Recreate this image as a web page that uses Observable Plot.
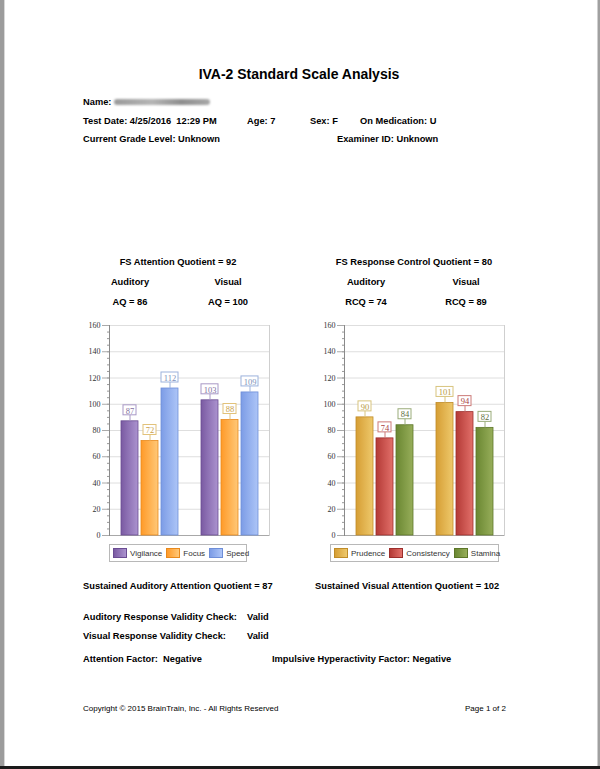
<!DOCTYPE html>
<html>
<head>
<meta charset="utf-8">
<script src="https://cdn.jsdelivr.net/npm/d3@7"></script>
<script src="https://cdn.jsdelivr.net/npm/@observablehq/plot@0.6"></script>
<style>
  html, body { margin: 0; padding: 0; background: #fff; }
  #page { position: relative; width: 600px; height: 769px; overflow: hidden; background: #fff;
          font-family: "Liberation Sans", Arial, sans-serif; color: #000; }
  .t { position: absolute; white-space: pre; font-weight: bold; }
  .c { transform: translateX(-50%); }
  .legend { position: absolute; border: 1px solid #b8b8b8; background: #fff; display: flex; align-items: center;
            font-family: "Liberation Sans", Arial, sans-serif; font-size: 8px; color: #333; box-sizing: border-box; }
  .legend .sw { display: inline-block; width: 14px; height: 10px; box-sizing: border-box; margin-right: 3px; }
  .legend .it { display: flex; align-items: center; }
  .chart { position: absolute; }
</style>
</head>
<body>
<div id="page"></div>
<script>
// ---------- data ----------
const title = "IVA-2 Standard Scale Analysis";
const groups = ["Auditory", "Visual"];
const attnSeries = ["Vigilance", "Focus", "Speed"];
const attnAuditory = [87, 72, 112];
const attnVisual = [103, 88, 109];
const rcSeries = ["Prudence", "Consistency", "Stamina"];
const rcAuditory = [90, 74, 84];
const rcVisual = [101, 94, 82];
const yTicks = [0, 20, 40, 60, 80, 100, 120, 140, 160];
const yMinorTicks = d3.range(0, 161, 5);

// colours: [dark, light, stroke, label border, label text]
const attnColors = [
  ["#7a5aa2", "#ab93cf", "#6a4c92", "#a898c6", "#7f6fa0"],
  ["#ff9a28", "#ffc878", "#e8891c", "#e2c27a", "#c9a04a"],
  ["#7c9ce6", "#adc5f7", "#6e8ed8", "#9cb2dc", "#7c90b8"]
];
const rcColors = [
  ["#d69e34", "#eec96c", "#c08c28", "#d8c47e", "#b89a40"],
  ["#b43a36", "#e2706a", "#9c2e2c", "#cc7a78", "#a84040"],
  ["#6a8732", "#97ae5a", "#5c7628", "#9aac7a", "#5e6e3e"]
];

const page = document.getElementById("page");
const BODY = 9.3;

function txt(s, x, y, opts = {}) {
  const d = document.createElement("div");
  d.className = "t" + (opts.center ? " c" : "");
  d.textContent = s;
  const fs = opts.size || BODY;
  d.style.fontSize = fs + "px";
  d.style.lineHeight = fs + "px";
  d.style.left = x + "px";
  d.style.top = (y - fs * 0.55) + "px";
  if (opts.normal) d.style.fontWeight = "normal";
  page.appendChild(d);
  return d;
}

// page edges
const edgeL = document.createElement("div");
edgeL.style.cssText = "position:absolute;left:0;top:0;width:4px;height:769px;background:#9c9c9c;border-right:1px solid #d8d8d8;";
page.appendChild(edgeL);
const edgeR = document.createElement("div");
edgeR.style.cssText = "position:absolute;left:597px;top:0;width:3px;height:769px;background:#a0a0a0;border-left:1px solid #d0d0d0;";
page.appendChild(edgeR);
const edgeB = document.createElement("div");
edgeB.style.cssText = "position:absolute;left:0;top:766px;width:600px;height:3px;background:#1a1a1a;";
page.appendChild(edgeB);

// header
txt(title, 299, 75, { center: true, size: 14 });
txt("Name:", 83, 103);
const blur = document.createElement("div");
blur.style.cssText = "position:absolute;left:114px;top:99px;width:96px;height:6px;border-radius:3px;background:linear-gradient(90deg,#9a9a9a,#b5b5b5 40%,#8e8e8e 70%,#a8a8a8);filter:blur(1.2px);";
page.appendChild(blur);
txt("Test Date: 4/25/2016  12:29 PM", 83, 122);
txt("Age: 7", 247, 122);
txt("Sex: F", 310, 122);
txt("On Medication: U", 360, 122);
txt("Current Grade Level: Unknown", 83, 140);
txt("Examiner ID: Unknown", 337, 140);

// chart headers
txt("FS Attention Quotient = 92", 178, 263, { center: true });
txt("Auditory", 130, 283, { center: true });
txt("Visual", 228, 283, { center: true });
txt("AQ = 86", 130, 303, { center: true });
txt("AQ = 100", 228, 303, { center: true });
txt("FS Response Control Quotient = 80", 414, 263, { center: true });
txt("Auditory", 366, 283, { center: true });
txt("Visual", 466, 283, { center: true });
txt("RCQ = 74", 366, 303, { center: true });
txt("RCQ = 89", 466, 303, { center: true });

// bottom texts
txt("Sustained Auditory Attention Quotient = 87", 83, 587);
txt("Sustained Visual Attention Quotient = 102", 315, 587);
txt("Auditory Response Validity Check:", 83, 618);
txt("Valid", 247, 618);
txt("Visual Response Validity Check:", 83, 637);
txt("Valid", 247, 637);
txt("Attention Factor:  Negative", 83, 660);
txt("Impulsive Hyperactivity Factor: Negative", 272, 660);
txt("Copyright \u00A9 2015 BrainTrain, Inc. - All Rights Reserved", 83, 709, { size: 8, normal: true });
txt("Page 1 of 2", 465, 709, { size: 8, normal: true });

function makeChart(id, series, aud, vis, colors, left, marginLeft, marginRight) {
  const data = groups.flatMap((g, gi) => series.map((s, si) => ({
    group: g, series: s, value: (gi ? vis : aud)[si], idx: si
  })));
  const fill = d => `url(#${id}-g${d.idx})`;
  const stroke = d => colors[d.idx][2];
  const lab = d => colors[d.idx][3];
  const labTxt = d => colors[d.idx][4];
  const common = { fx: "group", x: "series" };
  const plot = Plot.plot({
    width: 205,
    height: 255,
    marginLeft, marginRight,
    marginTop: 10,
    marginBottom: 35,
    fx: { domain: groups, padding: 0, axis: null },
    x: { domain: series, paddingInner: 0.15, paddingOuter: 0.575, axis: null },
    y: { domain: [0, 160], axis: null },
    color: { type: "identity" },
    style: { fontFamily: "Liberation Serif, serif", fontSize: "8px", color: "#333", background: "transparent", overflow: "visible" },
    marks: [
      Plot.ruleY(yTicks.slice(1), { stroke: "#dedede" }),
      Plot.frame({ anchor: "right", facetAnchor: "right", stroke: "#cfcfcf" }),
      Plot.ruleY([0], { stroke: "#a8a8a8" }),
      Plot.frame({ anchor: "left", facetAnchor: "left", stroke: "#8a8a8a" }),
      Plot.axisY({ ticks: yMinorTicks, tickSize: 2, tickFormat: () => "", stroke: "#999", label: null }),
      Plot.axisY({ ticks: yTicks, tickSize: 7, tickPadding: 2, stroke: "#aaa", fill: "#333",
        fontSize: 8, fontFamily: "Liberation Serif, serif", label: null }),
      Plot.barY(data, { ...common, y: "value", fill, stroke, strokeWidth: 0.8 }),
      Plot.ruleX(data, { ...common, y1: "value", y2: "value", insetTop: -6, stroke: lab }),
      Plot.barY(data.filter(d => d.value < 100), { ...common, y1: "value", y2: "value",
        insetTop: -16, insetBottom: 6, insetLeft: 2, insetRight: 2, fill: "#fff", stroke: lab }),
      Plot.barY(data.filter(d => d.value >= 100), { ...common, y1: "value", y2: "value",
        insetTop: -16, insetBottom: 6, insetLeft: 0, insetRight: 0, fill: "#fff", stroke: lab }),
      Plot.text(data, { ...common, y: "value", dy: -10.5, text: d => String(d.value), fill: labTxt,
        fontSize: 8.5, fontFamily: "Liberation Serif, serif" })
    ]
  });
  // gradients for the bars
  const defs = document.createElementNS("http://www.w3.org/2000/svg", "defs");
  defs.innerHTML = colors.map((c, i) =>
    `<linearGradient id="${id}-g${i}" x1="0" x2="1" y1="0" y2="0">
       <stop offset="0" stop-color="${c[0]}"/>
       <stop offset="1" stop-color="${c[1]}"/>
     </linearGradient>`).join("");
  plot.insertBefore(defs, plot.firstChild);
  const wrap = document.createElement("div");
  wrap.className = "chart";
  wrap.style.left = left + "px";
  wrap.style.top = "315px";
  wrap.appendChild(plot);
  page.appendChild(wrap);
}

function legend(series, colors, left, width, gap) {
  const lg = document.createElement("div");
  lg.className = "legend";
  lg.style.left = left + "px";
  lg.style.top = "544px";
  lg.style.width = width + "px";
  lg.style.height = "18px";
  lg.style.paddingLeft = "3px";
  series.forEach((s, i) => {
    const it = document.createElement("span");
    it.className = "it";
    if (i < series.length - 1) it.style.marginRight = gap + "px";
    const sw = document.createElement("span");
    sw.className = "sw";
    sw.style.background = `linear-gradient(90deg, ${colors[i][0]}, ${colors[i][1]})`;
    sw.style.border = `1px solid ${colors[i][2]}`;
    it.appendChild(sw);
    const t = document.createElement("span");
    t.textContent = s;
    it.appendChild(t);
    lg.appendChild(it);
  });
  page.appendChild(lg);
}

makeChart("attn", attnSeries, attnAuditory, attnVisual, attnColors, 70, 39, 6);
makeChart("rc", rcSeries, rcAuditory, rcVisual, rcColors, 303, 40, 4);
legend(attnSeries, attnColors, 109, 138, 4);
legend(rcSeries, rcColors, 330, 169, 4);
</script>
</body>
</html>
